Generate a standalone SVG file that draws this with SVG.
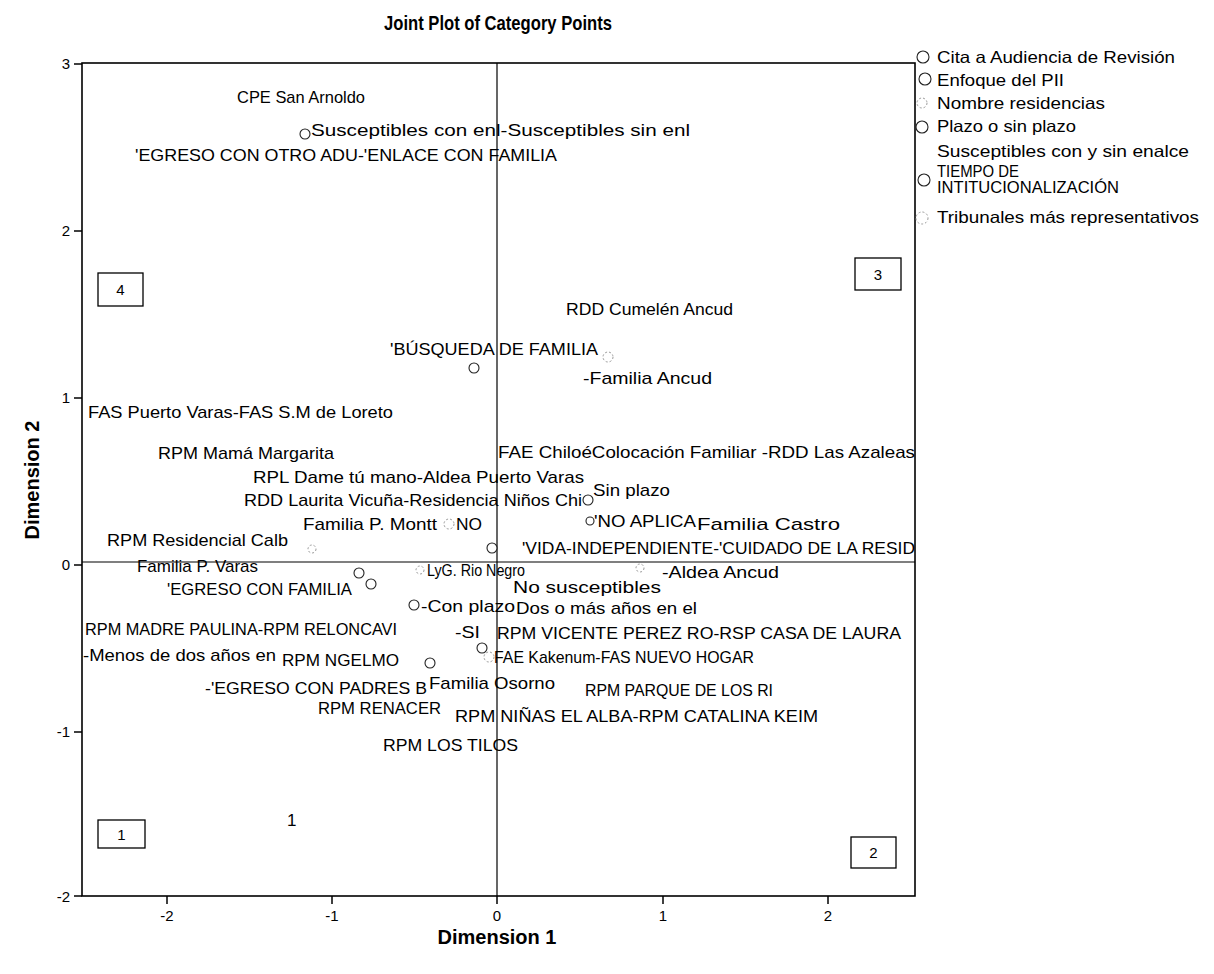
<svg xmlns="http://www.w3.org/2000/svg" width="1214" height="974" viewBox="0 0 1214 974">
  <style>
    text { font-family: "Liberation Sans", Arial, sans-serif; fill: #000; }
    .title { font-size: 21px; font-weight: bold; }
    .axis-title { font-size: 20px; font-weight: bold; }
    .tick { font-size: 15px; }
    .lbl { font-size: 17px; }
    .leg { font-size: 16.5px; }
    .quad { font-size: 15px; }
    .frame { fill: none; stroke: #000; stroke-width: 1.6; }
    .ref { stroke: #000; stroke-width: 1.2; }
    .tickmark { stroke: #000; stroke-width: 1.5; }
    .pt { fill: #fff; stroke: #222; stroke-width: 1.1; }
    .pt-faint { fill: none; stroke: #999; stroke-width: 1; stroke-dasharray: 2 2; }
    .box { fill: #fff; stroke: #000; stroke-width: 1.3; }
  </style>

  <rect width="1214" height="974" fill="#fff"/>

  <!-- title -->
  <text class="title" x="498" y="30" text-anchor="middle" textLength="228" lengthAdjust="spacingAndGlyphs">Joint Plot of Category Points</text>

  <!-- axes and frame -->
  <g id="axes">
    <rect class="frame" x="82" y="63" width="833" height="833"/>
    <line class="ref" x1="497" y1="63" x2="497" y2="896"/>
    <line class="ref" x1="82" y1="562" x2="915" y2="562" stroke-width="1.8"/>
    <!-- y ticks -->
    <line class="tickmark" x1="74" y1="64" x2="82" y2="64"/>
    <line class="tickmark" x1="74" y1="231" x2="82" y2="231"/>
    <line class="tickmark" x1="74" y1="398" x2="82" y2="398"/>
    <line class="tickmark" x1="74" y1="565" x2="82" y2="565"/>
    <line class="tickmark" x1="74" y1="732" x2="82" y2="732"/>
    <line class="tickmark" x1="74" y1="896" x2="82" y2="896"/>
    <text class="tick" x="70" y="69" text-anchor="end">3</text>
    <text class="tick" x="70" y="236" text-anchor="end">2</text>
    <text class="tick" x="70" y="403" text-anchor="end">1</text>
    <text class="tick" x="70" y="570" text-anchor="end">0</text>
    <text class="tick" x="70" y="737" text-anchor="end">-1</text>
    <text class="tick" x="70" y="902" text-anchor="end">-2</text>
    <!-- x ticks -->
    <line class="tickmark" x1="167" y1="896" x2="167" y2="904"/>
    <line class="tickmark" x1="332" y1="896" x2="332" y2="904"/>
    <line class="tickmark" x1="497" y1="896" x2="497" y2="904"/>
    <line class="tickmark" x1="663" y1="896" x2="663" y2="904"/>
    <line class="tickmark" x1="828" y1="896" x2="828" y2="904"/>
    <text class="tick" x="167" y="921" text-anchor="middle">-2</text>
    <text class="tick" x="332" y="921" text-anchor="middle">-1</text>
    <text class="tick" x="497" y="921" text-anchor="middle">0</text>
    <text class="tick" x="663" y="921" text-anchor="middle">1</text>
    <text class="tick" x="828" y="921" text-anchor="middle">2</text>
    <text class="axis-title" x="497" y="944" text-anchor="middle">Dimension 1</text>
    <text class="axis-title" transform="translate(39 480) rotate(-90)" text-anchor="middle">Dimension 2</text>
  </g>

  <!-- quadrant boxes -->
  <g id="quadrant-4"><rect class="box" x="98" y="273" width="45" height="33"/><text class="quad" x="120.5" y="295" text-anchor="middle">4</text></g>
  <g id="quadrant-3"><rect class="box" x="855" y="258" width="46" height="32"/><text class="quad" x="878" y="280" text-anchor="middle">3</text></g>
  <g id="quadrant-1"><rect class="box" x="98" y="820" width="47" height="28"/><text class="quad" x="121.5" y="840" text-anchor="middle">1</text></g>
  <g id="quadrant-2"><rect class="box" x="851" y="837" width="45" height="31"/><text class="quad" x="873.5" y="858" text-anchor="middle">2</text></g>

  <!-- category point markers -->
  <g id="points">
    <circle class="pt" cx="305" cy="134" r="5"/>
    <circle class="pt" cx="474" cy="368" r="5"/>
    <circle class="pt-faint" cx="608" cy="357" r="5"/>
    <circle class="pt" cx="588" cy="500" r="5"/>
    <circle class="pt-faint" cx="449" cy="524" r="5"/>
    <circle class="pt" cx="590" cy="521" r="4"/>
    <circle class="pt-faint" cx="312" cy="549" r="4"/>
    <circle class="pt" cx="492" cy="548" r="5"/>
    <circle class="pt" cx="359" cy="573" r="5"/>
    <circle class="pt" cx="371" cy="584" r="5"/>
    <circle class="pt-faint" cx="420" cy="570" r="4"/>
    <circle class="pt-faint" cx="640" cy="568" r="4"/>
    <circle class="pt" cx="414" cy="605" r="5"/>
    <circle class="pt" cx="482" cy="648" r="5"/>
    <circle class="pt-faint" cx="489" cy="657" r="5"/>
    <circle class="pt" cx="430" cy="663" r="5"/>
  </g>

  <!-- category point labels -->
  <g id="labels" class="lbl">
    <text x="237" y="103" textLength="128" lengthAdjust="spacingAndGlyphs">CPE San Arnoldo</text>
    <text x="311" y="136" textLength="379" lengthAdjust="spacingAndGlyphs">Susceptibles con enl-Susceptibles sin enl</text>
    <text x="135" y="161" textLength="422" lengthAdjust="spacingAndGlyphs">'EGRESO CON OTRO ADU-'ENLACE CON FAMILIA</text>
    <text x="566" y="315" textLength="167" lengthAdjust="spacingAndGlyphs">RDD Cumelén Ancud</text>
    <text x="390" y="355" textLength="208" lengthAdjust="spacingAndGlyphs">'BÚSQUEDA DE FAMILIA</text>
    <text x="583" y="384" textLength="129" lengthAdjust="spacingAndGlyphs">-Familia Ancud</text>
    <text x="88" y="418" textLength="305" lengthAdjust="spacingAndGlyphs">FAS Puerto Varas-FAS S.M de Loreto</text>
    <text x="158" y="459" textLength="176" lengthAdjust="spacingAndGlyphs">RPM Mamá Margarita</text>
    <text x="498" y="458" textLength="417" lengthAdjust="spacingAndGlyphs">FAE ChiloéColocación Familiar -RDD Las Azaleas</text>
    <text x="253" y="483" textLength="331" lengthAdjust="spacingAndGlyphs">RPL Dame tú mano-Aldea Puerto Varas</text>
    <text x="593" y="496" textLength="77" lengthAdjust="spacingAndGlyphs">Sin plazo</text>
    <text x="244" y="506" textLength="338" lengthAdjust="spacingAndGlyphs">RDD Laurita Vicuña-Residencia Niños Chi</text>
    <text x="303" y="530" textLength="134" lengthAdjust="spacingAndGlyphs">Familia P. Montt</text>
    <text x="456" y="530" textLength="26" lengthAdjust="spacingAndGlyphs">NO</text>
    <text x="594" y="527" textLength="102" lengthAdjust="spacingAndGlyphs">'NO APLICA</text>
    <text x="697" y="530" textLength="143" lengthAdjust="spacingAndGlyphs">Familia Castro</text>
    <text x="107" y="546" textLength="181" lengthAdjust="spacingAndGlyphs">RPM Residencial Calb</text>
    <text x="522" y="554" textLength="393" lengthAdjust="spacingAndGlyphs">'VIDA-INDEPENDIENTE-'CUIDADO DE LA RESID</text>
    <text x="137" y="572" textLength="121" lengthAdjust="spacingAndGlyphs">Familia P. Varas</text>
    <text x="427" y="576" textLength="98" lengthAdjust="spacingAndGlyphs">LyG. Rio Negro</text>
    <text x="662" y="578" textLength="117" lengthAdjust="spacingAndGlyphs">-Aldea Ancud</text>
    <text x="167" y="595" textLength="185" lengthAdjust="spacingAndGlyphs">'EGRESO CON FAMILIA</text>
    <text x="513" y="593" textLength="148" lengthAdjust="spacingAndGlyphs">No susceptibles</text>
    <text x="421" y="612" textLength="94" lengthAdjust="spacingAndGlyphs">-Con plazo</text>
    <text x="516" y="614" textLength="181" lengthAdjust="spacingAndGlyphs">Dos o más años en el</text>
    <text x="85" y="635" textLength="312" lengthAdjust="spacingAndGlyphs">RPM MADRE PAULINA-RPM RELONCAVI</text>
    <text x="455" y="638" textLength="25" lengthAdjust="spacingAndGlyphs">-SI</text>
    <text x="497" y="639" textLength="404" lengthAdjust="spacingAndGlyphs">RPM VICENTE PEREZ RO-RSP CASA DE LAURA</text>
    <text x="83" y="661" textLength="193" lengthAdjust="spacingAndGlyphs">-Menos de dos años en</text>
    <text x="282" y="666" textLength="117" lengthAdjust="spacingAndGlyphs">RPM NGELMO</text>
    <text x="494" y="663" textLength="260" lengthAdjust="spacingAndGlyphs">FAE Kakenum-FAS NUEVO HOGAR</text>
    <text x="205" y="694" textLength="222" lengthAdjust="spacingAndGlyphs">-'EGRESO CON PADRES B</text>
    <text x="429" y="689" textLength="126" lengthAdjust="spacingAndGlyphs">Familia Osorno</text>
    <text x="585" y="696" textLength="188" lengthAdjust="spacingAndGlyphs">RPM PARQUE DE LOS RI</text>
    <text x="318" y="714" textLength="123" lengthAdjust="spacingAndGlyphs">RPM RENACER</text>
    <text x="455" y="722" textLength="363" lengthAdjust="spacingAndGlyphs">RPM NIÑAS EL ALBA-RPM CATALINA KEIM</text>
    <text x="383" y="751" textLength="135" lengthAdjust="spacingAndGlyphs">RPM LOS TILOS</text>
    <text x="287" y="826">1</text>
  </g>

  <!-- legend -->
  <g id="legend" class="leg">
    <circle class="pt" cx="923" cy="57" r="6"/>
    <text x="937" y="63" textLength="238" lengthAdjust="spacingAndGlyphs">Cita a Audiencia de Revisión</text>
    <circle class="pt" cx="925" cy="79" r="6"/>
    <text x="937" y="86" textLength="127" lengthAdjust="spacingAndGlyphs">Enfoque del PII</text>
    <circle class="pt-faint" cx="922" cy="103" r="5" stroke="#ddd"/>
    <text x="937" y="109" textLength="168" lengthAdjust="spacingAndGlyphs">Nombre residencias</text>
    <circle class="pt" cx="922" cy="127" r="6"/>
    <text x="937" y="132" textLength="139" lengthAdjust="spacingAndGlyphs">Plazo o sin plazo</text>
    <text x="937" y="157" textLength="252" lengthAdjust="spacingAndGlyphs">Susceptibles con y sin enalce</text>
    <circle class="pt" cx="924" cy="180" r="6"/>
    <text x="937" y="177" textLength="82" lengthAdjust="spacingAndGlyphs">TIEMPO DE</text>
    <text x="937" y="193" textLength="182" lengthAdjust="spacingAndGlyphs">INTITUCIONALIZACIÓN</text>
    <circle class="pt-faint" cx="922" cy="218" r="6"/>
    <text x="937" y="223" textLength="262" lengthAdjust="spacingAndGlyphs">Tribunales más representativos</text>
  </g>
</svg>
